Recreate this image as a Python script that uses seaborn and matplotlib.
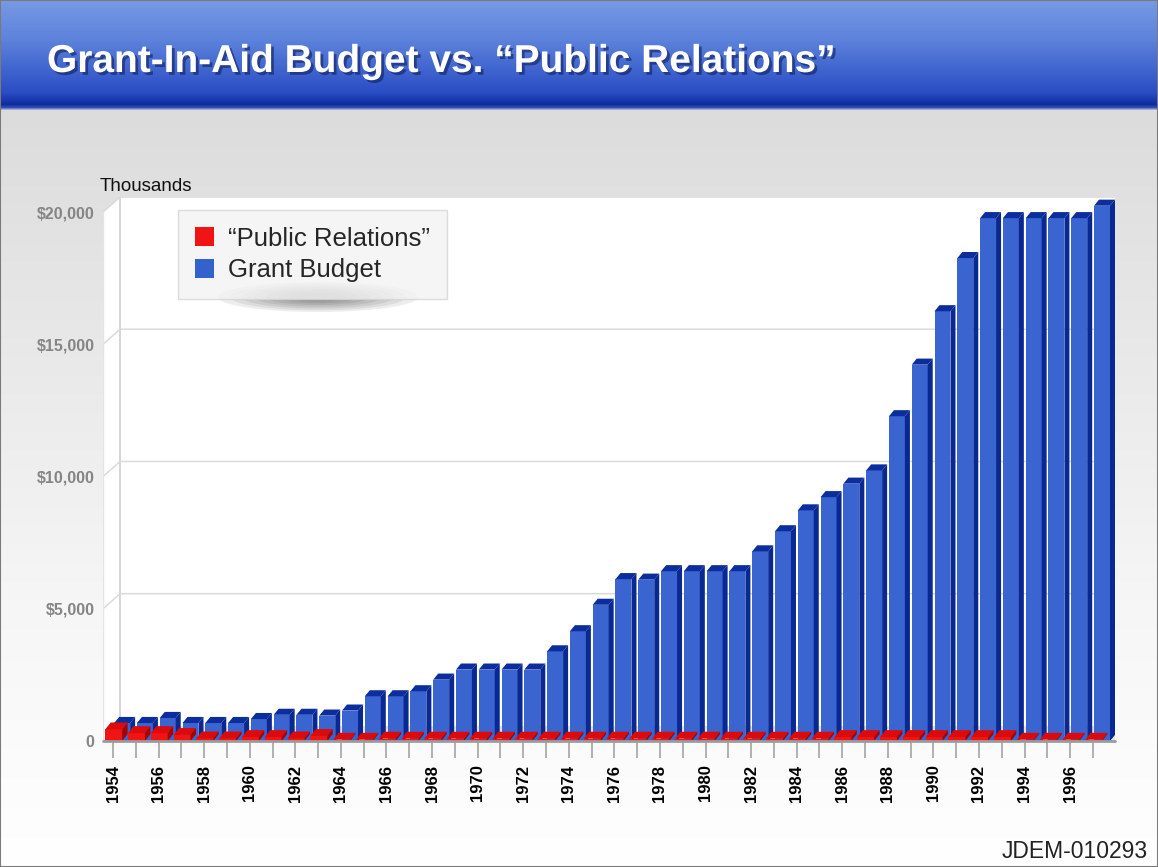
import numpy as np
import pandas as pd
import matplotlib
matplotlib.use("Agg")
import matplotlib.pyplot as plt
import seaborn as sns
from matplotlib.patches import Polygon, Patch, Ellipse, Rectangle
from matplotlib.lines import Line2D
from matplotlib import font_manager as fm
import matplotlib.patheffects as pe

# ---------------- data ----------------
years = [1954, 1955, 1956, 1957, 1958, 1959, 1960, 1961, 1962, 1963, 1964,
         1965, 1966, 1967, 1968, 1969, 1970, 1971, 1972, 1973, 1974, 1975,
         1976, 1977, 1978, 1979, 1980, 1981, 1982, 1983, 1984, 1985, 1986,
         1987, 1988, 1989, 1990, 1991, 1992, 1993, 1994, 1995, 1996, 1997]
grant_budget = [680, 680, 870, 680, 680, 680, 830, 990, 990, 960, 1150,
                1690, 1690, 1880, 2320, 2700, 2700, 2700, 2700, 3390, 4150, 5150,
                6120, 6100, 6420, 6420, 6420, 6420, 7170, 7930, 8720, 9220, 9730,
                10230, 12280, 14230, 16250, 18260, 19770, 19770, 19770, 19770, 19770, 20240]
public_relations = [440, 300, 300, 230, 100, 100, 150, 150, 100, 190, 50,
                    50, 90, 90, 90, 90, 90, 90, 90, 90, 90, 90,
                    90, 90, 90, 90, 90, 90, 90, 90, 90, 90, 150,
                    150, 150, 150, 150, 150, 150, 150, 50, 50, 50, 50]
y_ticks = [0, 5000, 10000, 15000, 20000]
y_tick_labels = ["0", "$5,000", "$10,000", "$15,000", "$20,000"]
series_labels = ["\u201cPublic Relations\u201d", "Grant Budget"]
title = "Grant-In-Aid Budget vs. \u201cPublic Relations\u201d"
unit_label = "Thousands"
footnote = "JDEM-010293"

# ---------------- style ----------------
sns.set_theme(style="white")
plt.rcParams["font.family"] = ["Liberation Sans", "DejaVu Sans"]
names = {f.name for f in fm.fontManager.ttflist}
narrow = "Liberation Sans Narrow" if "Liberation Sans Narrow" in names else "Liberation Sans"

BLUE = "#3A64CF"
BLUE_DARK = "#0C2D9E"
BLUE_SIDE = "#0A2892"
RED = "#F01414"
RED_TOP = "#DC0A0A"
RED_SIDE = "#A80000"

W, H = 1158, 867
fig = plt.figure(figsize=(W / 100, H / 100), dpi=100)

# background gradient (banner + light grey)
bg = fig.add_axes([0, 0, 1, 1], zorder=-10)
rows = np.arange(H)
stops_y = [0, 40, 92, 104, 107, 110, 300, 600, 867]
stops_c = ["#769AE4", "#5C82DB", "#2A4DC4", "#0E2C9E", "#3050B8",
           "#DCDCDC", "#E6E6E6", "#F6F6F6", "#FFFFFF"]
rgb = np.array([matplotlib.colors.to_rgb(c) for c in stops_c])
grad = np.stack([np.interp(rows, stops_y, rgb[:, k]) for k in range(3)], axis=1)
img = np.repeat(grad[:, None, :], 8, axis=1)
bg.imshow(img, extent=[0, 1, 0, 1], aspect="auto", origin="upper")
bg.set_axis_off()

# main axes
x_left_px, x_right_px, y_zero_px, y_top_px = 103, 1115, 741, 197
ax = fig.add_axes([x_left_px / W, (H - y_zero_px) / H,
                   (x_right_px - x_left_px) / W, (y_zero_px - y_top_px) / H])
ax.set_facecolor("none")

df = pd.DataFrame({"year": [str(y) for y in years],
                   "grant": grant_budget, "pr": public_relations})

sns.barplot(data=df, x="year", y="grant", color=BLUE, saturation=1, width=0.7,
            errorbar=None, linewidth=0, ax=ax, zorder=3)
blue_patches = list(ax.patches)
sns.barplot(data=df, x="year", y="pr", color=RED, saturation=1, width=0.74,
            errorbar=None, linewidth=0, ax=ax, zorder=6)
red_patches = list(ax.patches)[len(blue_patches):]

XL, XR = -0.44, 43.97
XB = XL + 0.75          # back corner of the left wall
WALL = 570              # back-wall offset of gridlines


def add_depth(patches, shift, top_c, side_c, z, dx, dy):
    for p in patches:
        p.set_x(p.get_x() + shift)
        x0, w, h = p.get_x(), p.get_width(), p.get_height()
        ax.add_patch(Polygon([(x0, h), (x0 + dx, h + dy), (x0 + w + dx, h + dy), (x0 + w, h)],
                             closed=True, fc=top_c, ec="none", zorder=z))
        ax.add_patch(Polygon([(x0 + w, 0), (x0 + w, h), (x0 + w + dx, h + dy), (x0 + w + dx, dy)],
                             closed=True, fc=side_c, ec="none", zorder=z))


add_depth(blue_patches, 0.40, BLUE_DARK, BLUE_SIDE, 3, 0.22, 230)
add_depth(red_patches, 0.03, RED_TOP, RED_SIDE, 6, 0.24, 260)

# plot walls, floor and gridlines
top = y_ticks[-1]
ax.add_patch(Polygon([(XL, 0), (XL, top), (XB, top + WALL), (XR, top + WALL), (XR, 0)],
                     closed=True, fc="white", ec="none", zorder=0))
ax.add_patch(Polygon([(XL, 0), (XR, 0), (XR, WALL), (XB, WALL)],
                     closed=True, fc="#E2E2E2", ec="none", zorder=1))
ax.add_line(Line2D([XB, XB], [WALL, top + WALL], color="#CFCFCF", lw=1.2, zorder=1))
for v in y_ticks[1:]:
    ax.add_line(Line2D([XL, XB, XR], [v, v + WALL, v + WALL], color="#DADADA", lw=1.1, zorder=1))
ax.add_line(Line2D([XL, XL], [0, top], color="#E4E4E4", lw=1.0, zorder=1))
ax.add_line(Line2D([XL, XR], [0, 0], color="#9C9C9C", lw=2.0, zorder=7, clip_on=False))

ax.set_xlim(XL, XR)
ax.set_ylim(0, top + WALL)
for s in ax.spines.values():
    s.set_visible(False)

ax.set_xticks(range(len(years)))
ax.set_xticklabels([str(y) if (y % 2 == 0) else "" for y in years],
                   rotation=90, fontsize=12, fontweight="bold", color="black")
ax.tick_params(axis="x", length=12, width=1.1, color="#9C9C9C", direction="out",
               pad=5, bottom=True)
ax.set_yticks(y_ticks)
ax.set_yticklabels(y_tick_labels, fontsize=11.5, fontweight="bold", color="#858585")
ax.tick_params(axis="y", length=0, pad=6)
ax.set_xlabel("")
ax.set_ylabel("")
ax.grid(False)

# legend
handles = [Patch(fc=RED, ec="none"), Patch(fc="#3462CC", ec="none")]
leg = ax.legend(handles, series_labels, loc="upper left",
                bbox_to_anchor=(178 / W, 1 - 210 / H), bbox_transform=fig.transFigure,
                frameon=True, fancybox=False, prop={"family": narrow, "size": 18.5},
                handlelength=0.75, handleheight=0.75, handletextpad=0.55,
                borderpad=0.65, labelspacing=0.3, borderaxespad=0)
leg.get_frame().set_facecolor("#F3F3F3")
leg.get_frame().set_edgecolor("#D5D5D5")
leg.get_frame().set_linewidth(1.0)
leg.set_zorder(20)
for k in range(7):
    e = Ellipse((318 / W, 1 - 297 / H), (200 - 24 * k) / W, (30 - 3.5 * k) / H,
                transform=fig.transFigure, fc="black", ec="none", alpha=0.07,
                zorder=19, clip_on=False)
    ax.add_artist(e)

# texts
fig.text(47 / W, 1 - 72 / H, title, fontsize=28, fontweight="bold", color="white",
         va="baseline", ha="left",
         path_effects=[pe.withSimplePatchShadow(offset=(2, -2), shadow_rgbFace="#102060", alpha=0.6)])
fig.text(100 / W, 1 - 191 / H, unit_label, fontsize=13.5, color="#111111",
         va="baseline", ha="left")
fig.text(1148 / W, 1 - 858 / H, footnote, fontsize=16.5, color="#222222",
         va="baseline", ha="right")

fig.add_artist(Rectangle((0, 0), 1, 1, transform=fig.transFigure, fill=False,
                         ec="#7A7A7A", lw=1.5))

fig.savefig("out.png", dpi=100)
